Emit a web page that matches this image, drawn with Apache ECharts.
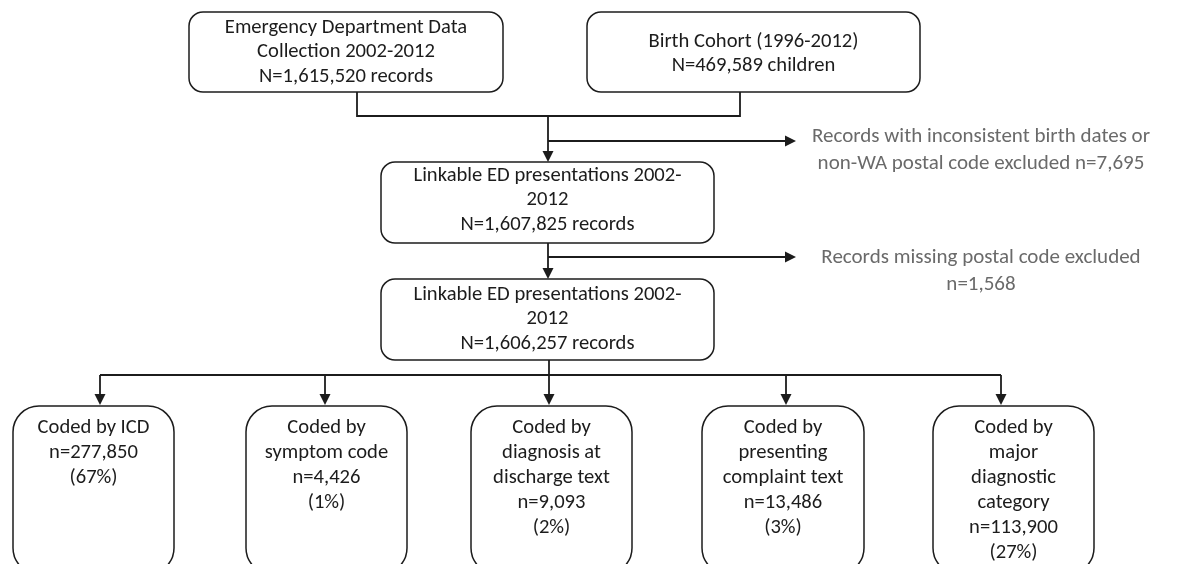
<!DOCTYPE html>
<html>
<head>
<meta charset="utf-8">
<script src="https://cdn.jsdelivr.net/npm/echarts@6/dist/echarts.min.js"></script>
<style>html,body{margin:0;padding:0;background:#fff}#c{width:1182px;height:564px}</style>
</head>
<body>
<div id="c"></div>
<script>
// ---- content ----
const sourceLabels = [
  'Emergency Department Data\nCollection 2002-2012\nN=1,615,520 records',
  'Birth Cohort (1996-2012)\nN=469,589 children'
];
const linkedLabels = [
  'Linkable ED presentations 2002-\n2012\nN=1,607,825 records',
  'Linkable ED presentations 2002-\n2012\nN=1,606,257 records'
];
const exclusionLabels = [
  'Records with inconsistent birth dates or\nnon-WA postal code excluded n=7,695',
  'Records missing postal code excluded\nn=1,568'
];
const codingCategories = ['Coded by ICD', 'Coded by\nsymptom code', 'Coded by\ndiagnosis at\ndischarge text', 'Coded by\npresenting\ncomplaint text', 'Coded by\nmajor\ndiagnostic\ncategory'];
const codingCounts = ['277,850', '4,426', '9,093', '13,486', '113,900'];
const codingShares = ['67%', '1%', '2%', '3%', '27%'];

// ---- layout (diagram coordinates = pixels) ----
const topRects = [[189, 12, 503, 92], [587, 12, 920, 92], [381, 162, 714, 243], [381, 279, 714, 360]];
const topTextY = [52, 54, 200, 319];
const bottomRects = [[13, 406, 174, 574], [246, 406, 407, 574], [471, 406, 632, 574], [702, 406, 864, 574], [933, 406, 1094, 574]];
const exclusionPos = [[981, 150], [981, 271]];
const plainLines = [
  [[357, 92], [357, 116], [740, 116], [740, 92]],
  [[549, 360], [549, 375]],
  [[100, 375], [1001, 375]]
];
const arrows = [
  [[548, 116], [548, 162]],
  [[548, 141], [796, 141]],
  [[548, 243], [548, 279]],
  [[548, 257], [796, 257]],
  [[100, 375], [100, 405]],
  [[325, 375], [325, 405]],
  [[549, 375], [549, 405]],
  [[786, 375], [786, 405]],
  [[1001, 375], [1001, 405]]
];

const FONT = 'Carlito, Lato, sans-serif';
const INK = '#1c1c1c';

const boxItems = [];
topRects.forEach((r, i) => boxItems.push({rect: r, text: i < 2 ? sourceLabels[i] : linkedLabels[i - 2], ty: topTextY[i], top: false, rad: 14}));
bottomRects.forEach((r, i) => boxItems.push({rect: r, text: codingCategories[i] + '\nn=' + codingCounts[i] + '\n(' + codingShares[i] + ')', ty: r[1] + 9, top: true, rad: 26}));

const chart = echarts.init(document.getElementById('c'), null, {renderer: 'canvas'});
chart.setOption({
  animation: false,
  backgroundColor: '#fff',
  grid: {left: 0, right: 0, top: 0, bottom: 0},
  xAxis: {type: 'value', min: 0, max: 1182, show: false},
  yAxis: {type: 'value', min: 0, max: 564, inverse: true, show: false},
  series: [
    {
      type: 'custom', coordinateSystem: 'cartesian2d', clip: false,
      data: plainLines.map((l, i) => [i]),
      renderItem: (params, api) => {
        const pts = plainLines[params.dataIndex].map(p => api.coord(p));
        return {type: 'polyline', shape: {points: pts}, style: {stroke: INK, lineWidth: 1.8, fill: null}};
      }
    },
    {
      type: 'custom', coordinateSystem: 'cartesian2d', clip: false,
      data: arrows.map((a, i) => [i]),
      renderItem: (params, api) => {
        const a = arrows[params.dataIndex];
        const p0 = api.coord(a[0]), p1 = api.coord(a[1]);
        const dx = p1[0] - p0[0], dy = p1[1] - p0[1];
        const len = Math.sqrt(dx * dx + dy * dy), ux = dx / len, uy = dy / len;
        const hl = 11, hw = 5.5;
        const bx = p1[0] - ux * hl, by = p1[1] - uy * hl;
        return {type: 'group', children: [
          {type: 'line', shape: {x1: p0[0], y1: p0[1], x2: bx, y2: by}, style: {stroke: INK, lineWidth: 1.8}},
          {type: 'polygon', shape: {points: [[p1[0], p1[1]], [bx - uy * hw, by + ux * hw], [bx + uy * hw, by - ux * hw]]}, style: {fill: INK}}
        ]};
      }
    },
    {
      type: 'custom', coordinateSystem: 'cartesian2d', clip: false,
      data: boxItems.map((b, i) => [i]),
      renderItem: (params, api) => {
        const b = boxItems[params.dataIndex];
        const p0 = api.coord([b.rect[0], b.rect[1]]), p1 = api.coord([b.rect[2], b.rect[3]]);
        const cx = (p0[0] + p1[0]) / 2;
        const ty = api.coord([0, b.ty])[1];
        return {type: 'group', children: [
          {type: 'rect', shape: {x: p0[0], y: p0[1], width: p1[0] - p0[0], height: p1[1] - p0[1], r: b.rad},
            style: {fill: '#fff', stroke: INK, lineWidth: 1.5}},
          {type: 'text', style: {text: b.text, x: cx, y: ty, align: 'center', verticalAlign: b.top ? 'top' : 'middle',
            font: '20.6px ' + FONT, lineHeight: b.top ? 25 : 24.5, fill: INK}}
        ]};
      }
    },
    {
      type: 'custom', coordinateSystem: 'cartesian2d', clip: false,
      data: exclusionLabels.map((t, i) => [i]),
      renderItem: (params, api) => {
        const p = api.coord(exclusionPos[params.dataIndex]);
        return {type: 'text', style: {text: exclusionLabels[params.dataIndex], x: p[0], y: p[1], align: 'center', verticalAlign: 'middle',
          font: '21px ' + FONT, lineHeight: 27, fill: '#6a6a6a'}};
      }
    }
  ]
});
</script>
</body>
</html>
